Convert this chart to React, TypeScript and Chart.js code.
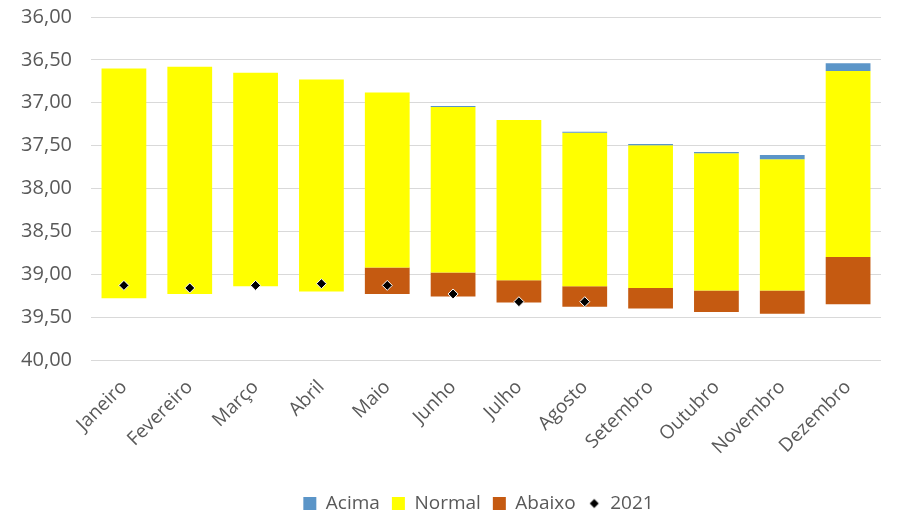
import React, { useEffect, useRef } from "react";
import { Chart, registerables } from "chart.js";
Chart.register(...registerables);

const months = ["Janeiro", "Fevereiro", "Março", "Abril", "Maio", "Junho", "Julho", "Agosto", "Setembro", "Outubro", "Novembro", "Dezembro"];
// top of "Acima" band (null = no band)
const acimaTop: (number | null)[] = [null, null, null, null, null, 37.038, null, 37.338, 37.482, 37.575, 37.61, 36.54];
// top of "Normal" band
const normalTop = [36.6, 36.58, 36.65, 36.73, 36.88, 37.05, 37.2, 37.35, 37.495, 37.588, 37.66, 36.63];
// bottom of "Normal" band (= top of "Abaixo")
const normalBottom = [39.28, 39.23, 39.14, 39.2, 38.92, 38.98, 39.07, 39.14, 39.16, 39.19, 39.19, 38.8];
// bottom of "Abaixo" band (null = no band)
const abaixoBottom: (number | null)[] = [null, null, null, null, 39.23, 39.26, 39.33, 39.38, 39.4, 39.44, 39.46, 39.35];
// 2021 observed values
const values2021: (number | null)[] = [39.13, 39.16, 39.13, 39.11, 39.13, 39.23, 39.32, 39.32, null, null, null, null];
const yTicks = [36, 36.5, 37, 37.5, 38, 38.5, 39, 39.5, 40];

const FONT = "'Open Sans', 'DejaVu Sans', sans-serif";
const TEXT = "#595959";

function diamondIcon(): HTMLCanvasElement {
  const c = document.createElement("canvas");
  c.width = 12;
  c.height = 12;
  const g = c.getContext("2d")!;
  g.fillStyle = "#000";
  g.beginPath();
  g.moveTo(6, 1.5);
  g.lineTo(10.5, 6);
  g.lineTo(6, 10.5);
  g.lineTo(1.5, 6);
  g.closePath();
  g.fill();
  return c;
}

const legendShift = {
  id: "legendShift",
  afterLayout(chart: any) {
    const lg = chart.legend;
    if (lg) {
      lg.left += 38;
      lg.right += 38;
    }
  },
};

export default function App() {
  const ref = useRef<HTMLCanvasElement>(null);
  useEffect(() => {
    Chart.defaults.font.family = FONT;
    Chart.defaults.color = TEXT;
    const icon = diamondIcon();
    const acimaData = months.map((_, i) => (acimaTop[i] == null ? null : [acimaTop[i] as number, normalTop[i]]));
    const normalData = months.map((_, i) => [normalTop[i], normalBottom[i]]);
    const abaixoData = months.map((_, i) => (abaixoBottom[i] == null ? null : [normalBottom[i], abaixoBottom[i] as number]));
    const barCommon = { grouped: false, barPercentage: 0.68, categoryPercentage: 1, borderWidth: 0, order: 2 };
    const chart = new Chart(ref.current!, {
      type: "bar",
      data: {
        labels: months,
        datasets: [
          { ...barCommon, label: "Acima", data: acimaData as any, backgroundColor: "#5b95c8" },
          { ...barCommon, label: "Normal", data: normalData as any, backgroundColor: "#ffff00" },
          { ...barCommon, label: "Abaixo", data: abaixoData as any, backgroundColor: "#c55a11" },
          {
            type: "line",
            label: "2021",
            data: values2021 as any,
            showLine: false,
            pointStyle: "rectRot",
            pointRadius: 5,
            pointBackgroundColor: "#000",
            pointBorderColor: "#ffffff",
            pointBorderWidth: 1,
            backgroundColor: "#000",
            borderColor: "#000",
            order: 0,
          } as any,
        ],
      },
      plugins: [legendShift],
      options: {
        responsive: false,
        animation: false,
        layout: { padding: { left: 0, right: 18, top: 17, bottom: 2 } },
        scales: {
          x: {
            grid: { display: false },
            border: { display: false },
            ticks: {
              autoSkip: false,
              minRotation: 45,
              maxRotation: 45,
              padding: 8,
              font: { size: 19 },
              color: TEXT,
            },
            afterFit: (s: any) => {
              s.height = 122;
              s.paddingTop = 0;
              s.paddingBottom = 0;
            },
          },
          y: {
            reverse: true,
            min: 36,
            max: 40,
            afterBuildTicks: (s: any) => {
              s.ticks = yTicks.map((v) => ({ value: v }));
            },
            grid: { color: "#d9d9d9", lineWidth: 1, drawTicks: false },
            border: { display: false },
            ticks: {
              padding: 19,
              font: { size: 20 },
              color: TEXT,
              callback: (v: any) => Number(v).toFixed(2).replace(".", ","),
            },
            afterFit: (s: any) => {
              s.width = 91;
              s.paddingTop = 0;
              s.paddingBottom = 0;
            },
          },
        },
        plugins: {
          tooltip: { enabled: false },
          legend: {
            position: "bottom",
            labels: {
              usePointStyle: true,
              boxHeight: 13,
              boxWidth: 13,
              padding: 12,
              font: { size: 19 },
              color: TEXT,
              sort: (a: any, b: any) => a.datasetIndex - b.datasetIndex,
              generateLabels: (c: any) => {
                const items = Chart.defaults.plugins.legend.labels.generateLabels(c);
                return items.map((it: any) => {
                  if (it.datasetIndex < 3) {
                    return { ...it, pointStyle: "rect", lineWidth: 0, strokeStyle: "rgba(0,0,0,0)" };
                  }
                  return { ...it, pointStyle: icon, lineWidth: 0 };
                });
              },
            },
          },
        },
      },
    });
    return () => chart.destroy();
  }, []);
  return (
    <div style={{ position: "fixed", left: 0, top: 0, width: 899, height: 525, background: "#fff" }}>
      <canvas ref={ref} width={899} height={525} style={{ display: "block" }} />
    </div>
  );
}
